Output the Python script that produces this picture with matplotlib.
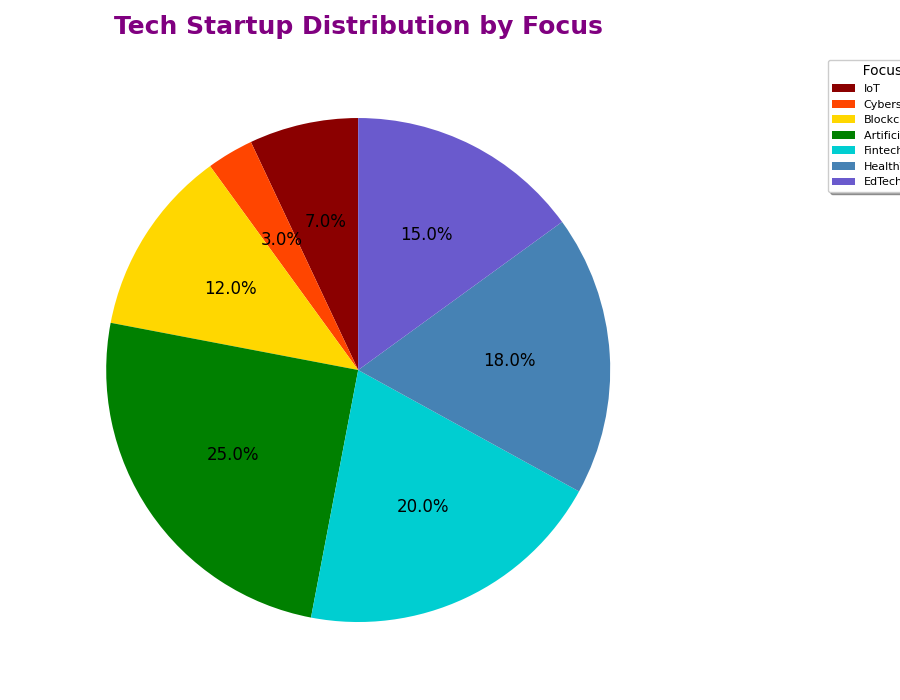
import matplotlib.pyplot as plt

# Dados
focos = ['IoT', 'Cybersecurity', 'Blockchain', 'Artificial Intelligence',
         'Fintech', 'HealthTech', 'EdTech']
percentuais = [7, 3, 12, 25, 20, 18, 15]
cores = ['#8B0000', '#FF4500', '#FFD700', '#008000', '#00CED1', '#4682B4', '#6A5ACD']

fig = plt.figure(figsize=(9, 7), dpi=100)
ax = fig.add_axes([0.048, 0.0214, 0.7, 0.9])

wedges, textos, autotextos = ax.pie(percentuais, colors=cores, startangle=90,
                                    autopct='%1.1f%%', textprops={'fontsize': 12})
ax.set_aspect('equal')

ax.set_title('Tech Startup Distribution by Focus', fontsize=18, fontweight='bold',
             color='purple', pad=15)

# legenda parcialmente fora da figura, como no original
ax.legend(wedges, focos, title='       Focus', fontsize=8, title_fontsize=10,
          loc='upper left', bbox_to_anchor=(828 / 900, 1 - 60 / 700),
          bbox_transform=fig.transFigure, borderaxespad=0, shadow=True,
          alignment='left')

fig.savefig('out.png')
